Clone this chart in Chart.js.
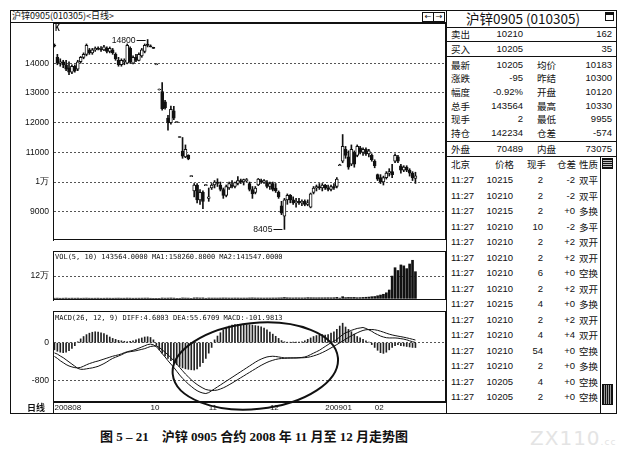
<!DOCTYPE html>
<html>
<head>
<meta charset="utf-8">
<script src="https://cdn.jsdelivr.net/npm/chart.js@4.4.1/dist/chart.umd.min.js"></script>
<style>
  body { margin:0; width:638px; height:457px; background:#fff; position:relative; overflow:hidden; font-family:"Liberation Sans", Arial, sans-serif; color:#111; }
  .a { position:absolute; white-space:nowrap; }
  .cn { font-family:"Noto Sans CJK SC", sans-serif; }
  .ln { position:absolute; background:#111; }
  canvas { position:absolute; }
</style>
</head>
<body>
<div class="a" style="left:10px;top:10px;width:607px;height:404px;border:1px solid #111;box-sizing:border-box"></div>
<div class="ln" style="left:10px;top:22px;width:436px;height:1px"></div>
<div class="a cn" style="left:12px;top:10px;font-size:9px;line-height:12px">沪锌0905(010305)&lt;日线&gt;</div>
<div class="a" style="left:422px;top:12px;width:10px;height:8px;border:1px solid #111;font:8px 'DejaVu Sans';line-height:8px;text-align:center">&#8592;</div>
<div class="a" style="left:433px;top:12px;width:10px;height:8px;border:1px solid #111;font:8px 'DejaVu Sans';line-height:8px;text-align:center">&#8594;</div>

<canvas id="cP" width="436" height="228" style="left:10px;top:23px"></canvas>
<canvas id="cV" width="436" height="60" style="left:10px;top:251px"></canvas>
<canvas id="cM" width="436" height="102" style="left:10px;top:311px"></canvas>

<div class="a" style="left:100px;top:428px;font-family:'Liberation Serif','Noto Sans CJK SC',serif;font-weight:bold;font-size:13px;line-height:18px">图 5 – 21&nbsp;&nbsp;&nbsp;&nbsp;沪锌 0905 合约 2008 年 11 月至 12 月走势图</div>
<div class="a" style="left:530px;top:426px;font:20px 'DejaVu Sans';color:#e4e4e4;letter-spacing:1px">ZX110<span style="font-size:9px">.cc</span></div>

<script>
'use strict';

// daily candles, one per trading day (Aug 2008 - Feb 2009)
const opens = [14600,14200,14000,14050,13950,13850,13700,13900,13800,14050,14200,14300,14450,14350,14450,14500,14480,14450,14500,14400,14450,14300,14100,13950,14050,14000,14500,14000,14200,14100,14250,14400,14650,14580,14520,13950,13100,13050,12700,12150,12000,12400,12000,11500,11040,10850,10900,10180,9700,9900,9400,9650,9880,9450,9800,9900,10000,9900,9750,9550,9800,9900,9850,9950,10050,10000,10050,9950,9750,9650,9900,10050,10000,10000,9850,9950,9800,9650,9200,8850,9400,9550,9400,9300,9350,9300,9350,9250,9150,9650,9800,9850,9800,9900,9800,9750,9850,9850,10550,10700,11100,10850,10600,11000,10900,11150,11000,11100,10950,10900,10700,10250,10150,10000,10150,10300,10350,10700,10850,10550,10400,10500,10400,10300,10120];
const highs = [14650,14300,14150,14100,14100,14050,13950,13950,14100,14230,14350,14650,14500,14500,14550,14550,14560,14600,14550,14550,14500,14350,14200,14150,14150,14650,14550,14250,14300,14350,14500,14650,14800,14620,14540,13950,13100,13350,12750,12250,12560,12550,12000,11500,11500,11250,10920,10180,9950,9950,9750,9700,9900,9800,9950,10050,10110,10000,9800,9900,10000,10050,10000,10180,10100,10100,10120,10000,9850,9850,10120,10100,10080,10050,10000,10000,9950,9700,9350,9450,9600,9580,9500,9450,9450,9400,9400,9400,9630,9850,9900,9950,9950,9920,9900,9900,9950,10150,10600,11600,11200,11050,11250,11050,11250,11200,11150,11150,11100,10950,10750,10270,10250,10200,10350,10450,10600,10950,10900,10600,10550,10550,10450,10350,10330];
const lows = [14550,13950,13900,13850,13750,13620,13650,13700,13750,14000,14150,14250,14300,14300,14400,14450,14400,14420,14350,14350,14300,14100,13900,13900,13950,13980,14000,13980,14050,14080,14200,14350,14550,14550,14500,13950,13100,12420,12450,11750,11950,12100,12000,11500,10800,10820,10750,10180,9500,9300,9250,9100,9880,9350,9750,9800,9850,9700,9450,9500,9750,9800,9800,9900,9950,9900,10000,9700,9450,9600,9880,9950,9950,9800,9750,9700,9650,9450,8900,8405,9250,9300,9250,9150,9250,9200,9200,9200,9130,9600,9700,9750,9700,9750,9700,9700,9750,9800,10550,10650,10800,10430,10550,10500,10850,10950,10900,10900,10850,10700,10480,10050,9950,9900,10100,10200,10150,10650,10650,10300,10350,10350,10200,10050,9955];
const closes = [14580,14000,14050,13950,13800,13700,13900,13750,14050,14200,14300,14600,14350,14450,14500,14480,14450,14550,14400,14500,14350,14150,13950,14100,14100,14600,14050,14200,14100,14300,14450,14600,14600,14550,14500,13950,13100,12470,12500,11990,12450,12150,12000,11500,10870,11100,10780,10180,9900,9400,9650,9350,9900,9500,9900,10000,9950,9750,9550,9850,9950,9850,9980,10050,10000,10080,10050,9750,9600,9800,10100,10000,10050,9850,9950,9750,9700,9500,8950,9400,9550,9400,9300,9350,9300,9350,9250,9300,9600,9800,9850,9800,9900,9800,9750,9850,9800,10100,10580,11200,10900,10500,11100,10600,11200,11000,11100,10950,11050,10750,10550,10100,10000,10150,10300,10350,10250,10900,10700,10400,10500,10400,10300,10150,10205];
const volumes = [800,1200,600,900,1500,700,1100,900,1300,600,1000,1400,800,700,900,1100,600,800,1200,900,700,1000,1300,800,900,1500,1100,700,900,1000,1200,1400,1600,500,300,200,300,1800,1200,1500,2000,1400,300,400,2200,1600,1300,300,2500,2800,2000,2400,500,1800,1500,1600,1400,1700,2100,1900,1600,1500,1800,1700,1400,1600,1500,2200,2600,2000,1900,1700,1600,1800,1700,2000,1900,2400,2800,4500,3000,2500,2200,2600,2400,2300,2500,3800,3200,3000,2800,3000,2900,3100,3300,3000,3400,5200,1500,9000,4000,5000,4500,5000,3500,4000,5000,6000,7000,9000,10000,14000,18000,22000,30000,45000,120000,165000,150000,180000,175000,160000,185000,205000,143564];
const diff = [-290,-330,-380,-420,-460,-490,-510,-525,-530,-520,-495,-465,-440,-420,-400,-385,-365,-345,-325,-305,-285,-270,-255,-235,-210,-190,-175,-160,-140,-115,-90,-65,-40,-30,-45,-85,-150,-230,-300,-380,-450,-520,-600,-680,-750,-810,-870,-920,-970,-1010,-1040,-1060,-1070,-1050,-1010,-970,-930,-890,-850,-810,-770,-730,-690,-650,-610,-570,-530,-490,-450,-410,-375,-345,-320,-300,-290,-285,-290,-300,-310,-320,-320,-320,-320,-320,-315,-310,-300,-280,-250,-220,-190,-160,-120,-80,-40,0,30,70,120,170,210,230,260,280,300,310,320,300,270,240,200,170,140,120,105,100,100,100,95,85,75,60,40,20,5];
const dea = [-215,-240,-280,-315,-360,-405,-450,-495,-540,-560,-560,-550,-540,-530,-515,-497,-470,-440,-405,-365,-330,-305,-280,-255,-225,-200,-190,-180,-170,-155,-140,-125,-102,-80,-72,-70,-100,-150,-200,-255,-315,-380,-450,-520,-590,-660,-720,-780,-835,-880,-920,-955,-985,-998,-1004,-1005,-995,-975,-950,-920,-885,-850,-812,-775,-737,-700,-662,-625,-587,-550,-512,-477,-445,-415,-390,-370,-352,-340,-332,-328,-325,-323,-322,-321,-320,-318,-315,-308,-295,-278,-258,-235,-208,-178,-145,-110,-75,-40,-3,35,75,110,145,178,208,235,258,272,278,278,272,260,242,222,200,180,163,150,138,127,115,102,88,72,56];
const macdBars = [-150,-180,-200,-210,-200,-170,-120,-60,20,80,130,170,200,220,230,225,210,190,160,120,90,70,50,40,30,20,30,40,60,80,100,120,125,110,60,-60,-150,-220,-280,-330,-380,-420,-460,-500,-530,-550,-560,-570,-575,-550,-500,-420,-330,-220,-100,60,140,210,270,320,350,370,380,385,385,380,378,378,370,360,350,335,305,270,225,180,135,90,45,20,10,10,5,5,10,20,40,70,100,130,150,160,170,160,170,200,230,280,350,410,330,280,230,180,130,100,70,40,10,-40,-100,-160,-210,-225,-200,-150,-100,-60,-40,-60,-70,-80,-90,-100,-102];

const slotCount = 135;          // trading-day slots across the panel, the last ones empty
const monthIdx = [0, 33, 53, 74, 93, 110];
const monthText = ['200808', '10', '11', '12', '200901', '02'];
const priceTicks = [9000, 10000, 11000, 12000, 13000, 14000];
const volTicks = [120000];
const macdTicks = [-800, 0];

const quoteTop = [['卖出', '10210', '162'], ['买入', '10205', '35']];
const quoteMid = [
  ['最新', '10205', '均价', '10183'],
  ['涨跌', '-95', '昨结', '10300'],
  ['幅度', '-0.92%', '开盘', '10120'],
  ['总手', '143564', '最高', '10330'],
  ['现手', '2', '最低', '9955'],
  ['持仓', '142234', '仓差', '-574']
];
const quoteOuter = ['外盘', '70489', '内盘', '73075'];
const tradeHead = ['北京', '价格', '现手', '仓差', '性质'];
const tradeTime = ['11:27','11:27','11:27','11:27','11:27','11:27','11:27','11:27','11:27','11:27','11:27','11:27','11:27','11:27','11:27'];
const tradePrice = ['10215','10210','10215','10210','10210','10210','10210','10210','10215','10210','10210','10210','10210','10205','10205'];
const tradeQty = ['2','2','2','10','2','2','6','2','4','2','4','54','2','4','2'];
const tradeOi = ['-2','-2','+0','-2','+2','+2','+0','+2','+0','+2','+4','+0','+0','+0','+0'];
const tradeType = ['双平','双平','多换','多平','双开','双开','空换','双开','多换','双开','双开','空换','多换','空换','空换'];

Chart.defaults.color = '#111';
Chart.defaults.animation = false;
Chart.defaults.font.family = '"Liberation Sans", Arial, sans-serif';

const slots = Array.from({ length: slotCount }, (_, i) => i);

function xAxis(show) {
  return {
    type: 'category',
    offset: true,
    display: show,
    grid: { display: false, drawTicks: false },
    border: { display: true, color: '#111' },
    afterBuildTicks: s => { if (show) s.ticks = monthIdx.map(v => ({ value: v })); },
    afterFit: s => { s.height = 11; s.paddingLeft = 0; s.paddingRight = 0; },
    ticks: {
      autoSkip: false, maxRotation: 0, align: 'start', padding: 1,
      font: { size: 8 },
      callback: (v, i) => monthText[i]
    }
  };
}

function yAxis(min, max, ticks, label) {
  return {
    position: 'left',
    min: min,
    max: max,
    afterBuildTicks: s => { s.ticks = ticks.map(v => ({ value: v })); },
    afterFit: s => { s.width = 43; s.paddingTop = 0; s.paddingBottom = 0; },
    ticks: { autoSkip: false, padding: 4, font: { size: 8.6 }, callback: label },
    grid: { color: '#555', lineWidth: 1, drawTicks: false },
    border: { color: '#111', width: 1, dash: [2, 2] }
  };
}

const frame = {
  id: 'frame',
  afterDraw(chart) {
    const { ctx, chartArea: a } = chart;
    ctx.save();
    ctx.strokeStyle = '#111';
    ctx.lineWidth = 1;
    ctx.strokeRect(Math.round(a.left) + 0.5, Math.round(a.top) + 0.5,
      Math.round(a.right - a.left) - 1, Math.round(a.bottom - a.top) - 1);
    ctx.restore();
  }
};

const priceNotes = {
  id: 'priceNotes',
  afterDatasetsDraw(chart) {
    const { ctx, scales: { x, y } } = chart;
    const hi = Math.max(...highs);
    const lo = Math.min(...lows);
    ctx.save();
    ctx.fillStyle = '#111';
    ctx.strokeStyle = '#111';
    ctx.lineWidth = 1;
    ctx.font = '8.6px "Liberation Sans"';
    ctx.textAlign = 'right';
    ctx.textBaseline = 'middle';
    [[highs.indexOf(hi), hi], [lows.indexOf(lo), lo]].forEach(([i, v]) => {
      const px = x.getPixelForValue(i);
      const py = Math.round(y.getPixelForValue(v)) + 0.5;
      ctx.beginPath();
      ctx.moveTo(px - 11, py);
      ctx.lineTo(px - 2, py);
      ctx.stroke();
      ctx.fillText(String(v), px - 12, py);
    });
    ctx.font = 'bold 8px "DejaVu Sans Mono"';
    ctx.textAlign = 'left';
    ctx.fillText('K', x.left + 2, y.top + 6);
    ctx.restore();
  }
};

const volNotes = {
  id: 'volNotes',
  afterDraw(chart) {
    const { ctx, chartArea: a } = chart;
    ctx.save();
    ctx.fillStyle = '#111';
    ctx.font = '7px "DejaVu Sans Mono"';
    ctx.textBaseline = 'middle';
    ctx.fillText('VOL(5, 10) 143564.0000 MA1:158260.8000 MA2:141547.0000', a.left + 2, a.top + 6);
    ctx.restore();
  }
};

const macdNotes = {
  id: 'macdNotes',
  afterDraw(chart) {
    const { ctx, chartArea: a, scales: { x, y } } = chart;
    ctx.save();
    ctx.fillStyle = '#111';
    ctx.strokeStyle = '#111';
    ctx.font = '7px "DejaVu Sans Mono"';
    ctx.textBaseline = 'middle';
    ctx.fillText('MACD(26, 12, 9) DIFF:4.6803 DEA:55.6709 MACD:-101.9813', a.left + 2, a.top + 7);
    // date row: left label and divider
    ctx.font = 'bold 9px "Noto Sans CJK SC"';
    ctx.textAlign = 'right';
    ctx.fillText('日线', a.left - 8, a.bottom + 5.5);
    ctx.lineWidth = 1;
    ctx.beginPath();
    ctx.moveTo(Math.round(a.left) + 0.5, a.bottom);
    ctx.lineTo(Math.round(a.left) + 0.5, chart.height);
    ctx.stroke();
    // hand-drawn ring around the Nov-Dec turn
    ctx.lineWidth = 2;
    ctx.beginPath();
    ctx.ellipse(x.getPixelForValue(69), y.getPixelForValue(-490), 83, 43, -0.1, 0, Math.PI * 2);
    ctx.stroke();
    ctx.restore();
  }
};

new Chart(document.getElementById('cP'), {
  type: 'bar',
  data: {
    labels: slots,
    datasets: [{
      data: lows.map((l, i) => [l, highs[i]]),
      backgroundColor: '#111',
      barThickness: 1,
      minBarLength: 1,
      grouped: false,
      order: 2
    }, {
      data: opens.map((o, i) => [o, closes[i]]),
      backgroundColor: c => closes[c.dataIndex] >= opens[c.dataIndex] ? '#fff' : '#111',
      borderColor: '#111',
      borderWidth: 1,
      borderSkipped: false,
      barThickness: 3,
      minBarLength: 1,
      grouped: false,
      order: 1
    }]
  },
  options: {
    responsive: false,
    layout: { padding: 0 },
    plugins: { legend: { display: false }, tooltip: { enabled: false } },
    scales: {
      x: xAxis(false),
      y: yAxis(8048, 15356, priceTicks, v => v === 10000 ? '1万' : String(v))
    }
  },
  plugins: [frame, priceNotes]
});

new Chart(document.getElementById('cV'), {
  type: 'bar',
  data: {
    labels: slots,
    datasets: [{
      data: volumes,
      backgroundColor: '#111',
      barThickness: 2,
      grouped: false
    }]
  },
  options: {
    responsive: false,
    layout: { padding: 0 },
    plugins: { legend: { display: false }, tooltip: { enabled: false } },
    scales: {
      x: xAxis(false),
      y: yAxis(-8800, 255000, volTicks, v => (v / 10000) + '万')
    }
  },
  plugins: [frame, volNotes]
});

new Chart(document.getElementById('cM'), {
  type: 'bar',
  data: {
    labels: slots,
    datasets: [{
      type: 'line',
      data: diff,
      borderColor: '#111',
      borderWidth: 1,
      pointRadius: 0,
      order: 1
    }, {
      type: 'line',
      data: dea,
      borderColor: '#111',
      borderWidth: 1,
      pointRadius: 0,
      order: 1
    }, {
      data: macdBars,
      backgroundColor: '#222',
      barThickness: 1,
      grouped: false,
      order: 2
    }]
  },
  options: {
    responsive: false,
    layout: { padding: 0 },
    plugins: { legend: { display: false }, tooltip: { enabled: false } },
    scales: {
      x: xAxis(true),
      y: yAxis(-1248, 667, macdTicks, v => String(v))
    }
  },
  plugins: [frame, macdNotes]
});

// quote panel on the right
function put(s, x, y, opt) {
  opt = opt || {};
  const d = document.createElement('div');
  d.className = 'a' + (opt.cn ? ' cn' : '');
  d.textContent = s;
  d.style.fontSize = (opt.size || 9.5) + 'px';
  d.style.lineHeight = '14px';
  d.style.top = (y - 7) + 'px';
  d.style.left = x + 'px';
  if (opt.right) d.style.transform = 'translateX(-100%)';
  document.body.appendChild(d);
}
function hline(x1, x2, y) {
  const d = document.createElement('div');
  d.className = 'ln';
  d.style.left = x1 + 'px';
  d.style.top = y + 'px';
  d.style.width = (x2 - x1) + 'px';
  d.style.height = '1px';
  document.body.appendChild(d);
}
function vline(x, y1, y2) {
  const d = document.createElement('div');
  d.className = 'ln';
  d.style.left = x + 'px';
  d.style.top = y1 + 'px';
  d.style.width = '1px';
  d.style.height = (y2 - y1) + 'px';
  document.body.appendChild(d);
}

vline(446, 10, 414);
put('沪锌0905 (010305)', 466, 18, { cn: true, size: 13.5 });
const box = document.createElement('div');
box.className = 'a';
box.style.cssText = 'left:605px;top:12px;width:7px;height:5px;border:1px solid #111;border-top-width:3px';
document.body.appendChild(box);
hline(446, 616, 27);

quoteTop.forEach((r, k) => {
  const y = 34 + k * 14.5;
  put(r[0], 451, y, { cn: true, size: 9.5 });
  put(r[1], 523, y, { right: true });
  put(r[2], 612, y, { right: true });
});
hline(446, 616, 41);
hline(446, 616, 56);

quoteMid.forEach((r, k) => {
  const y = 64.5 + k * 13.7;
  put(r[0], 451, y, { cn: true, size: 9.5 });
  put(r[1], 523, y, { right: true });
  put(r[2], 537, y, { cn: true, size: 9.5 });
  put(r[3], 612, y, { right: true });
});
hline(446, 616, 141);
put(quoteOuter[0], 451, 149, { cn: true, size: 9.5 });
put(quoteOuter[1], 523, 149, { right: true });
put(quoteOuter[2], 537, 149, { cn: true, size: 9.5 });
put(quoteOuter[3], 612, 149, { right: true });
hline(446, 616, 156);

const headX = [451, 495, 527, 557, 579];
tradeHead.forEach((h, k) => put(h, headX[k], 163.5, { cn: true, size: 9.5 }));
tradeTime.forEach((t, k) => {
  const y = 180 + k * 15.5;
  put(t, 451, y);
  put(tradePrice[k], 513, y, { right: true });
  put(tradeQty[k], 543, y, { right: true });
  put(tradeOi[k], 575, y, { right: true });
  put(tradeType[k], 579, y, { cn: true, size: 9.5 });
});

// scroll bar of the trade list
vline(600, 157, 413);
const up = document.createElement('div');
up.className = 'a';
up.style.cssText = 'left:602px;top:158px;width:9px;height:9px;border:1px solid #111;background:repeating-linear-gradient(0deg,#111 0 1px,#bbb 1px 2px)';
document.body.appendChild(up);
const dn = document.createElement('div');
dn.className = 'a';
dn.style.cssText = 'left:602px;top:384px;width:9px;height:19px;border:1px solid #111;background:repeating-linear-gradient(90deg,#111 0 1px,#999 1px 2px)';
document.body.appendChild(dn);
</script>
</body>
</html>
